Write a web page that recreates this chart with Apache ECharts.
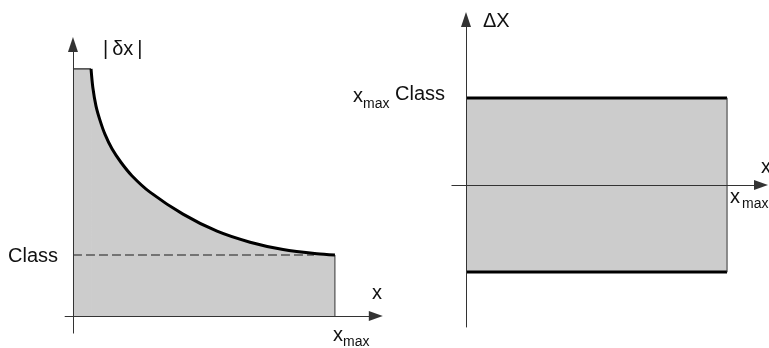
<!DOCTYPE html>
<html>
<head>
<meta charset="utf-8">
<script src="https://cdn.jsdelivr.net/npm/echarts/dist/echarts.min.js"></script>
<style>
  html, body { margin: 0; padding: 0; background: #fff; }
  #chart { width: 769px; height: 348px; }
</style>
</head>
<body>
<div id="chart"></div>
<script>
// left diagram: |δx| against x (x in % of x_max, y in units of Class)
const flatTopX = [0, 6.9]
const flatTopY = 4.05
const curveX = [6.9, 7.6, 8.8, 10.3, 12.2, 14.9, 18.3, 22.5, 29.4, 42.0, 55.0, 67.6, 80.2, 93.1, 100]
const curveY = [4.05, 3.74, 3.44, 3.21, 2.98, 2.74, 2.52, 2.30, 2.03, 1.67, 1.39, 1.21, 1.09, 1.02, 1.0]
const classLevel = 1
const dashEnd = 92
const xMax = 100

// right diagram: ΔX band between -x_max Class and +x_max Class
const bandX = [0, 100]
const bandTop = 1
const bandBottom = -1

const font = "'Liberation Sans', Arial, sans-serif"
const fill = '#cccccc'
const ink = '#000'

const zip = (xs, ys) => xs.map((x, i) => [x, Array.isArray(ys) ? ys[i] : ys])

function axis(gridIndex, min, max, arrowSize) {
    return {
        type: 'value',
        gridIndex: gridIndex,
        min: min,
        max: max,
        z: 5,
        axisLine: {
            show: true,
            onZero: true,
            symbol: ['none', 'triangle'],
            symbolSize: arrowSize,
            lineStyle: { color: '#333', width: 1 }
        },
        axisTick: { show: false },
        axisLabel: { show: false },
        splitLine: { show: false }
    }
}

function label(text, x, y, size) {
    return {
        type: 'text',
        x: x,
        y: y,
        z: 10,
        style: {
            text: text,
            font: size + 'px ' + font,
            fill: '#111',
            align: 'left',
            verticalAlign: 'middle'
        }
    }
}

const chart = echarts.init(document.getElementById('chart'), null, { renderer: 'canvas' })

chart.setOption({
    animation: false,
    grid: [
        { left: 65.1, right: 393.2, top: 44.5, bottom: 14.9 },
        { left: 451.9, right: 8, top: 19.5, bottom: 21 }
    ],
    xAxis: [
        axis(0, -3, 115.6, [10, 14]),
        axis(1, -5.4, 113, [10, 14])
    ],
    yAxis: [
        axis(0, -0.28, 4.45, [10, 15]),
        axis(1, -1.63, 1.9, [10, 15])
    ],
    series: [
        {
            type: 'line',
            xAxisIndex: 0, yAxisIndex: 0,
            data: zip(flatTopX, flatTopY),
            symbol: 'none',
            lineStyle: { color: '#222', width: 1.2 },
            areaStyle: { color: fill, opacity: 1 },
            z: 2
        },
        {
            type: 'line',
            xAxisIndex: 0, yAxisIndex: 0,
            data: zip(curveX, curveY),
            symbol: 'none',
            smooth: 0.3,
            lineStyle: { color: fill, width: 0 },
            areaStyle: { color: fill, opacity: 1 },
            z: 2
        },
        {
            type: 'line',
            xAxisIndex: 0, yAxisIndex: 0,
            data: [[0, classLevel], [dashEnd, classLevel]],
            symbol: 'none',
            lineStyle: { color: '#555', width: 1.3, type: [9, 4] },
            z: 3
        },
        {
            type: 'line',
            xAxisIndex: 0, yAxisIndex: 0,
            data: [[xMax, 0], [xMax, classLevel]],
            symbol: 'none',
            lineStyle: { color: '#333', width: 1 },
            z: 3
        },
        {
            type: 'line',
            xAxisIndex: 0, yAxisIndex: 0,
            data: zip(curveX, curveY),
            symbol: 'none',
            smooth: 0.3,
            lineStyle: { color: ink, width: 3 },
            z: 4
        },
        // right diagram
        {
            type: 'line',
            xAxisIndex: 1, yAxisIndex: 1,
            data: zip(bandX, bandTop),
            symbol: 'none',
            lineStyle: { color: ink, width: 3 },
            markArea: {
                silent: true,
                itemStyle: { color: fill, opacity: 1 },
                data: [[{ coord: [bandX[0], bandBottom] }, { coord: [bandX[1], bandTop] }]]
            },
            z: 3
        },
        {
            type: 'line',
            xAxisIndex: 1, yAxisIndex: 1,
            data: zip(bandX, bandBottom),
            symbol: 'none',
            lineStyle: { color: ink, width: 3 },
            z: 3
        },
        {
            type: 'line',
            xAxisIndex: 1, yAxisIndex: 1,
            data: [[bandX[1], bandBottom], [bandX[1], bandTop]],
            symbol: 'none',
            lineStyle: { color: '#333', width: 1 },
            z: 3
        }
    ],
    graphic: [
        label('|\u2009δx\u2009|', 103, 49, 20),
        label('Class', 8, 256, 20),
        label('x', 372, 293, 20),
        label('x', 333, 335, 20),
        label('max', 343, 342, 14),
        label('ΔX', 483, 21, 20),
        label('x', 353, 96, 20),
        label('max', 363, 104, 14),
        label('Class', 395, 94, 20),
        label('x', 761, 167, 20),
        label('x', 730, 197, 20),
        label('max', 742, 204, 14)
    ]
})
</script>
</body>
</html>
